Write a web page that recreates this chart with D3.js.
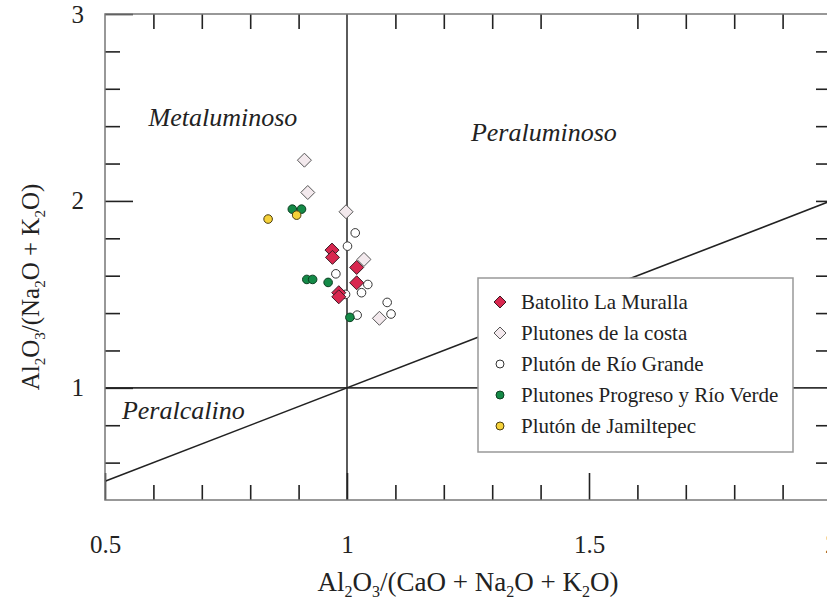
<!DOCTYPE html>
<html><head><meta charset="utf-8">
<script src="https://cdn.jsdelivr.net/npm/d3@7"></script>
<style>body{margin:0;background:#fff}svg{display:block}</style>
</head><body>
<svg id="c" width="827" height="600"></svg>
<script>
// ---- data ----
const seriesNames = ["Batolito La Muralla","Plutones de la costa","Plutón de Río Grande","Plutones Progreso y Río Verde","Plutón de Jamiltepec"];
const muralla = [[0.969,1.737],[0.970,1.698],[1.020,1.644],[1.020,1.562],[0.983,1.509],[0.983,1.487]];
const costa = [[0.912,2.218],[0.919,2.045],[0.998,1.942],[1.035,1.687],[1.067,1.372]];
const rioGrande = [[1.017,1.829],[1.001,1.758],[0.977,1.610],[1.043,1.553],[1.030,1.509],[1.083,1.457],[1.091,1.395],[1.021,1.389],[0.997,1.500]];
const progreso = [[0.887,1.956],[0.906,1.956],[0.917,1.580],[0.929,1.580],[0.961,1.564],[1.006,1.377]];
const jamiltepec = [[0.837,1.903],[0.896,1.924]];
const xTickLabels = [0.5,1,1.5,2];
const yTickLabels = [1,2,3];
const xMinorTicks = [0.6,0.7,0.8,0.9,1.1,1.2,1.3,1.4,1.6,1.7,1.8,1.9];
const yMinorTicks = [0.6,0.8,1.2,1.4,1.6,1.8,2.2,2.4,2.6,2.8];
const regionLabels = [["Metaluminoso",0.59,2.4],["Peraluminoso",1.256,2.32],["Peralcalino",0.535,0.833]];

const styles = [
  {shape:"diamond", fill:"#d8274f", stroke:"#3a1a22"},
  {shape:"diamond", fill:"#f3e9ed", stroke:"#555"},
  {shape:"circle", fill:"#ffffff", stroke:"#333"},
  {shape:"circle", fill:"#148a47", stroke:"#0d3f22"},
  {shape:"circle", fill:"#f6d23a", stroke:"#4a3d10"}
];
const allSeries = [muralla,costa,rioGrande,progreso,jamiltepec];

const svg = d3.select("#c");
const L=105,R=831,T=14,B=500;
const x = d3.scaleLinear().domain([0.5,2]).range([L,R]);
const y = d3.scaleLinear().domain([0.4,3]).range([B,T]);
const serif = '"Liberation Serif","Times New Roman",Times,serif';

const g = svg.append("g");

// reference lines
g.append("line").attr("x1",x(1)).attr("x2",x(1)).attr("y1",y(3)).attr("y2",y(0.4)).attr("stroke","#333").attr("stroke-width",1.6);
g.append("line").attr("x1",x(0.5)).attr("x2",x(2)).attr("y1",y(1)).attr("y2",y(1)).attr("stroke","#333").attr("stroke-width",1.6);
g.append("line").attr("x1",x(0.5)).attr("x2",x(2)).attr("y1",y(0.5)).attr("y2",y(2)).attr("stroke","#222").attr("stroke-width",1.6);

function styleAxis(sel){
  sel.select(".domain").remove();
  sel.attr("font-family",null);
  sel.selectAll(".tick line").attr("stroke","#222").attr("stroke-width",1.6);
  sel.selectAll(".tick text").style("font-family",serif).attr("font-size",25).attr("fill","#222");
}
g.append("g").attr("transform",`translate(0,${B})`).call(d3.axisBottom(x).tickValues(xMinorTicks).tickSize(-15).tickFormat("")).call(styleAxis);
g.append("g").attr("transform",`translate(0,${B})`).call(d3.axisBottom(x).tickValues(xTickLabels).tickSize(-27).tickPadding(35).tickFormat(d=>String(d))).call(styleAxis);
g.append("g").attr("transform",`translate(0,${T})`).call(d3.axisTop(x).tickValues(xMinorTicks).tickSize(-15).tickFormat("")).call(styleAxis);
g.append("g").attr("transform",`translate(${L},0)`).call(d3.axisLeft(y).tickValues(yMinorTicks).tickSize(-15).tickFormat("")).call(styleAxis);
g.append("g").attr("transform",`translate(${L},0)`).call(d3.axisLeft(y).tickValues(yTickLabels).tickSize(-28).tickPadding(21).tickFormat(d=>String(d))).call(styleAxis);
g.append("g").attr("transform",`translate(${R},0)`).call(d3.axisRight(y).tickValues(yMinorTicks.concat([2])).tickSize(-15).tickFormat("")).call(styleAxis);

// border
g.append("rect").attr("x",L).attr("y",T).attr("width",R-L).attr("height",B-T).attr("fill","none").attr("stroke","#777").attr("stroke-width",1.5);

// region labels
g.selectAll("text.reg").data(regionLabels).join("text").attr("class","reg")
  .attr("x",d=>x(d[1])).attr("y",d=>y(d[2])).style("font-family",serif).attr("font-style","italic").attr("font-size",26).attr("fill","#222").text(d=>d[0]);

// points
function drawMark(sel, st, r, rc){
  if(st.shape==="diamond"){
    sel.append("path").attr("d",`M0,${-r}L${r},0L0,${r}L${-r},0Z`).attr("fill",st.fill).attr("stroke",st.stroke).attr("stroke-width",1);
  } else {
    sel.append("circle").attr("r",rc).attr("fill",st.fill).attr("stroke",st.stroke).attr("stroke-width",1);
  }
}
const drawOrder=[2,3,4,1,0];
drawOrder.forEach(i=>{
  allSeries[i].forEach(p=>{
    const m = g.append("g").attr("transform",`translate(${x(p[0])},${y(p[1])})`);
    drawMark(m, styles[i], 7, 4.3);
  });
});

// legend
const lg = g.append("g");
lg.append("rect").attr("x",478).attr("y",278).attr("width",315).attr("height",174).attr("fill","#fff").attr("stroke","#999").attr("stroke-width",1.5);
seriesNames.forEach((n,i)=>{
  const yy = 302 + i*31;
  const m = lg.append("g").attr("transform",`translate(500,${yy})`);
  drawMark(m, styles[i], 6, 4);
  lg.append("text").attr("x",521).attr("y",yy+7).style("font-family",serif).attr("font-size",21).attr("fill","#222").text(n);
});

// axis titles with subscripts
function chem(t, parts, sub, shift){
  parts.forEach(p=>{
    if(p[1]) t.append("tspan").attr("font-size",sub).attr("dy",shift).text(p[0]);
    else t.append("tspan").attr("dy",p[2]?-shift:0).text(p[0]);
  });
}
const xt = svg.append("text").attr("x",468).attr("y",591).attr("text-anchor","middle").style("font-family",serif).attr("font-size",27).attr("fill","#222");
chem(xt,[["Al"],["2",1],["O",0,1],["3",1],["/(CaO + Na",0,1],["2",1],["O + K",0,1],["2",1],["O)",0,1]],16,6);
const yt = svg.append("text").attr("transform","translate(39,287) rotate(-90)").attr("text-anchor","middle").style("font-family",serif).attr("font-size",25).attr("fill","#222");
chem(yt,[["Al"],["2",1],["O",0,1],["3",1],["/(Na",0,1],["2",1],["O + K",0,1],["2",1],["O)",0,1]],15,6);
</script>
</body></html>
